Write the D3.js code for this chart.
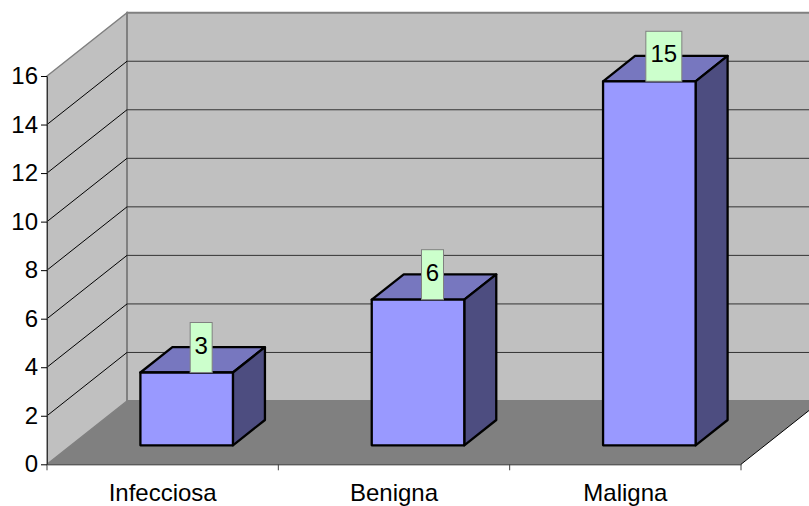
<!DOCTYPE html>
<html>
<head>
<meta charset="utf-8">
<script src="https://cdn.jsdelivr.net/npm/d3@7/dist/d3.min.js"></script>
<style>
html,body{margin:0;padding:0;background:#fff}
svg{display:block}
text{font-family:"Liberation Sans",Arial,sans-serif;fill:#000}
</style>
</head>
<body>
<svg id="chart" width="809" height="506"></svg>
<script>
const categories = ["Infecciosa", "Benigna", "Maligna"];
const values = [3, 6, 15];
const valueTicks = [0, 2, 4, 6, 8, 10, 12, 14, 16];

const width = 809, height = 506;
const plot = {left: 47, right: 741, top: 76, bottom: 464.3};
const depth = {dx: 80, dy: -63.3};
const fontSize = 24;

const svg = d3.select("#chart");
const x = d3.scaleBand().domain(categories).range([plot.left, plot.right]).paddingInner(0).paddingOuter(0);
const y = d3.scaleLinear().domain([0, 16]).range([plot.bottom, plot.top]);

// Oblique projection: t is the distance into the chart, 0 at the front and 1 at the back wall.
const project = (px, py, t) => [px + depth.dx * t, py + depth.dy * t];
const poly = pts => pts.map(p => p.join(",")).join(" ");

const yTop = y(16), yBase = y(0);
const L = plot.left, R = plot.right;

// Side wall, back wall and floor
svg.append("polygon")
  .attr("points", poly([project(L, yBase, 0), project(L, yTop, 0), project(L, yTop, 1), project(L, yBase, 1)]))
  .attr("fill", "#c0c0c0").attr("stroke", "#808080").attr("stroke-width", 1.5);
svg.append("polygon")
  .attr("points", poly([project(L, yBase, 1), project(L, yTop, 1), project(R, yTop, 1), project(R, yBase, 1)]))
  .attr("fill", "#c0c0c0").attr("stroke", "#808080").attr("stroke-width", 2);
svg.append("polygon")
  .attr("points", poly([project(L, yBase, 0), project(R, yBase, 0), project(R, yBase, 1), project(L, yBase, 1)]))
  .attr("fill", "#808080");

// Gridlines wrap from the side wall onto the back wall
const grid = svg.append("g").attr("fill", "none");
valueTicks.filter(v => v > 0 && v < 16).forEach(v => {
  grid.append("line")
    .attr("x1", L).attr("y1", y(v))
    .attr("x2", project(L, y(v), 1)[0]).attr("y2", project(L, y(v), 1)[1])
    .attr("stroke", "#000").attr("stroke-width", 1);
  grid.append("line")
    .attr("x1", project(L, y(v), 1)[0]).attr("y1", project(L, y(v), 1)[1])
    .attr("x2", project(R, y(v), 1)[0]).attr("y2", project(R, y(v), 1)[1])
    .attr("stroke", "#333").attr("stroke-width", 1);
});

// Floor's open edge on the right
svg.append("line")
  .attr("x1", R).attr("y1", yBase)
  .attr("x2", project(R, yBase, 1)[0]).attr("y2", project(R, yBase, 1)[1])
  .attr("stroke", "#000").attr("stroke-width", 1);

// Axes
const yAxis = d3.axisLeft(y).tickValues(valueTicks).tickSize(6).tickPadding(3).tickSizeOuter(0);
const gy = svg.append("g").attr("transform", `translate(${L},0)`).call(yAxis);
gy.selectAll("text").attr("font-size", fontSize).style("font-family", '"Liberation Sans",Arial,sans-serif').attr("fill", "#000");
gy.selectAll("line").attr("stroke", "#000");
gy.select(".domain").attr("stroke", "#333");

const xAxis = d3.axisBottom(x).tickSize(0).tickPadding(20).tickSizeOuter(0);
const gx = svg.append("g").attr("transform", `translate(0,${yBase})`).call(xAxis);
gx.selectAll("text").attr("font-size", fontSize).style("font-family", '"Liberation Sans",Arial,sans-serif').attr("fill", "#000");
gx.select(".domain").attr("stroke", "#222");

// Tick marks sit on the category boundaries
const boundaries = categories.map(c => x(c)).concat([R]);
svg.append("g").selectAll("line").data(boundaries).join("line")
  .attr("x1", d => d).attr("x2", d => d)
  .attr("y1", yBase).attr("y2", yBase + 6)
  .attr("stroke", "#444").attr("stroke-width", 1);

// 3D bars: each block runs from 30% to 70% of the depth and spans 40% of its band
const bars = svg.append("g");
const tFront = 0.3, tBack = 0.7, widthShare = 0.4;
const labels = [];
categories.forEach((c, i) => {
  const bw = x.bandwidth() * widthShare;
  const x0 = x(c) + (x.bandwidth() - bw) / 2;
  const x1 = x0 + bw;
  const yb = y(0), yt = y(values[i]);
  const f = (px, py) => project(px, py, tFront);
  const b = (px, py) => project(px, py, tBack);
  const style = sel => sel.attr("stroke", "#000").attr("stroke-width", 2.3).attr("stroke-linejoin", "round");
  bars.append("polygon").attr("points", poly([f(x0, yt), f(x1, yt), b(x1, yt), b(x0, yt)])).attr("fill", "#7777bf").call(style);
  bars.append("polygon").attr("points", poly([f(x1, yb), f(x1, yt), b(x1, yt), b(x1, yb)])).attr("fill", "#4d4d80").call(style);
  bars.append("polygon").attr("points", poly([f(x0, yb), f(x1, yb), f(x1, yt), f(x0, yt)])).attr("fill", "#9999ff").call(style);
  labels.push({value: values[i], cx: f((x0 + x1) / 2, yt)[0] + 14.5, top: f(x0, yt)[1]});
});

// Value labels sit on the bars in pale green boxes
const labelGroup = svg.append("g");
labels.forEach(d => {
  const w = String(d.value).length > 1 ? 36 : 22;
  const h = 50;
  const bx = d.cx - w / 2;
  labelGroup.append("rect")
    .attr("x", bx).attr("y", d.top - h).attr("width", w).attr("height", h)
    .attr("fill", "#ccffcc").attr("stroke", "#808080").attr("stroke-width", 1);
  labelGroup.append("text")
    .attr("x", bx + w / 2).attr("y", d.top - h / 2 + 6)
    .attr("text-anchor", "middle").attr("font-size", fontSize)
    .text(d.value);
});
</script>
</body>
</html>
